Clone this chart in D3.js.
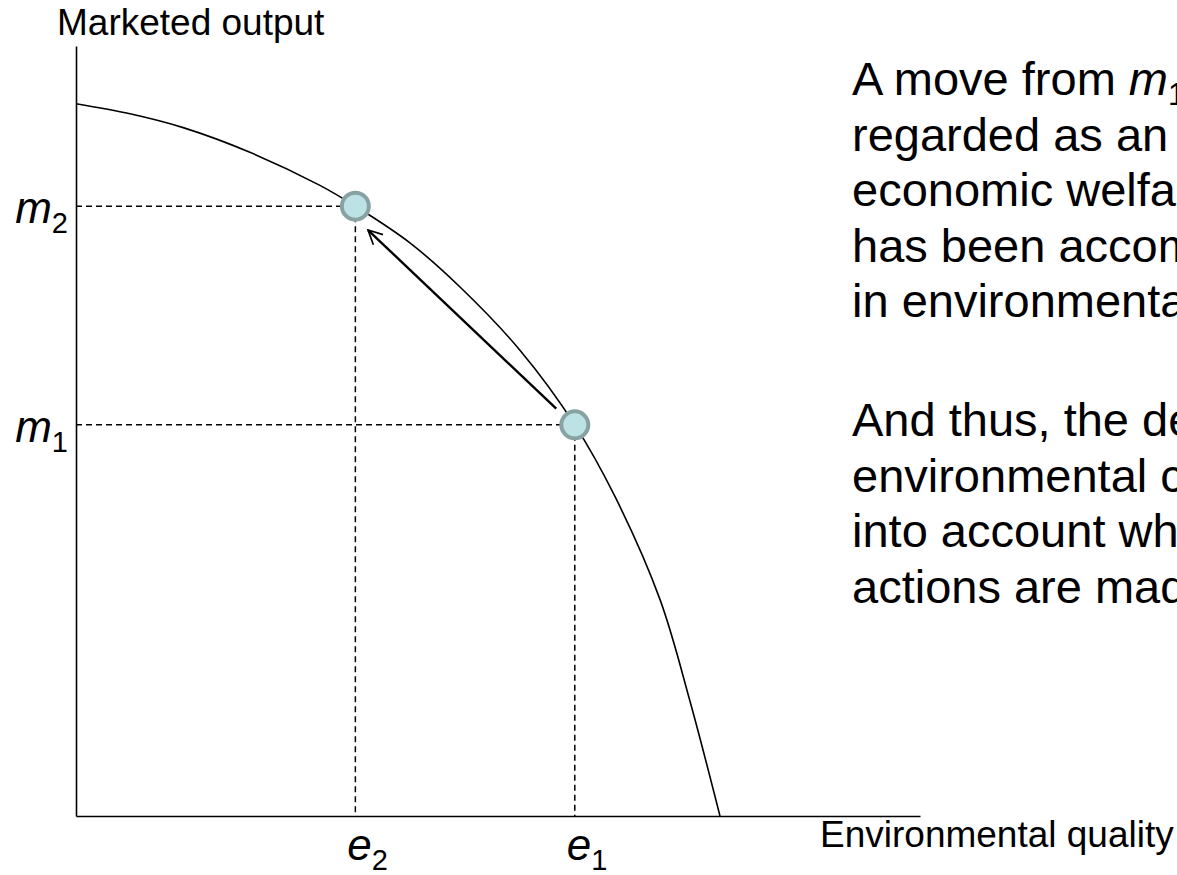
<!DOCTYPE html>
<meta charset="utf-8">
<style>
  body { margin: 0; background: #fff; }
  * { font-family: "Liberation Sans", Arial, sans-serif; }
  .curve { fill: none; stroke: #000; stroke-width: 1.6px; }
  .guide { stroke: #000; stroke-width: 1.5px; stroke-dasharray: 6,4; }
  .axis path { stroke: #000; stroke-width: 1.6px; }
</style>
<body>
<script src="https://d3js.org/d3.v7.min.js"></script>
<script>

// production possibility frontier (0-100 units)
var curveX = [0, 6.4, 12.7, 20.6, 28.9, 33.1, 39.6, 45.5, 52.6, 59.1, 63.9, 69.2, 72.7, 76.3];
var curveY = [92.5, 91.2, 89.4, 86.2, 81.9, 79.2, 74.4, 68.7, 60.5, 50.8, 41.4, 28.1, 15.1, 0];

// the two marked points
var pointNames = ["2", "1"];
var pointX = [33.1, 59.1];
var pointY = [79.2, 50.8];

// arrow from point 1 towards point 2
var arrowFrom = [56.9, 52.9];
var arrowTo = [34.6, 76.1];

var axisTitles = ["Marketed output", "Environmental quality"];

var para1 = ["A move from |m|1| e1 to m2 e2", "regarded as an increase",
             "economic welfare, even",
             "has been accompanied",
             "in environmental quality."];
var para2 = ["And thus, the decline", "environmental capital",
             "into account when",
             "actions are made."];

var W = 1177, H = 875;

var svg = d3.select("body").append("svg")
    .attr("width", W)
    .attr("height", H);

//scales
var x = d3.scaleLinear().domain([0, 100]).range([76, 920]);
var y = d3.scaleLinear().domain([0, 100]).range([816, 46]);

//axes, no ticks
svg.append("g")
  .attr("class", "axis")
  .attr("transform", "translate(" + x(0) + ",0)")
  .call(d3.axisLeft(y).ticks(0).tickSizeOuter(0));

svg.append("g")
  .attr("class", "axis")
  .attr("transform", "translate(0," + y(0) + ")")
  .call(d3.axisBottom(x).ticks(0).tickSizeOuter(0));

svg.append("text")
  .attr("x", 57).attr("y", 35)
  .style("font-size", "37px")
  .text(axisTitles[0]);

svg.append("text")
  .attr("x", 820).attr("y", 847)
  .style("font-size", "37px")
  .text(axisTitles[1]);

//dashed guides
pointX.forEach(function(px, i) {
  svg.append("line").attr("class", "guide")
    .attr("x1", x(0)).attr("x2", x(px))
    .attr("y1", y(pointY[i])).attr("y2", y(pointY[i]));
  svg.append("line").attr("class", "guide")
    .attr("x1", x(px)).attr("x2", x(px))
    .attr("y1", y(pointY[i])).attr("y2", y(0));
});

//frontier
var line = d3.line()
  .curve(d3.curveCatmullRom)
  .x(function(d) { return x(d[0]); })
  .y(function(d) { return y(d[1]); });

svg.append("path")
  .attr("class", "curve")
  .attr("d", line(d3.zip(curveX, curveY)));

//arrow
svg.append("defs").append("marker")
  .attr("id", "head")
  .attr("viewBox", "0 0 12 12")
  .attr("refX", 11).attr("refY", 6)
  .attr("markerWidth", 7).attr("markerHeight", 7)
  .attr("markerUnits", "strokeWidth")
  .attr("orient", "auto")
  .append("path")
  .attr("d", "M1,1 L11,6 L1,11")
  .attr("fill", "none")
  .attr("stroke", "#000")
  .attr("stroke-width", 1.2);

svg.append("line")
  .attr("x1", x(arrowFrom[0])).attr("y1", y(arrowFrom[1]))
  .attr("x2", x(arrowTo[0])).attr("y2", y(arrowTo[1]))
  .attr("stroke", "#000")
  .attr("stroke-width", 2.4)
  .attr("marker-end", "url(#head)");

//points
svg.selectAll(".pt")
  .data(pointX)
  .enter().append("circle")
  .attr("class", "pt")
  .attr("cx", function(d) { return x(d); })
  .attr("cy", function(d, i) { return y(pointY[i]); })
  .attr("r", 13.5)
  .attr("fill", "#bce2e5")
  .attr("stroke", "#88a2a4")
  .attr("stroke-width", 4);

//m and e labels
pointNames.forEach(function(n, i) {
  var mt = svg.append("text")
    .attr("x", 68).attr("y", y(pointY[i]) + 17)
    .attr("text-anchor", "end");
  mt.append("tspan").style("font-size", "44px").style("font-style", "italic").text("m");
  mt.append("tspan").style("font-size", "29px").attr("dy", 10).text(n);

  var et = svg.append("text")
    .attr("x", x(pointX[i]) - 8).attr("y", 860);
  et.append("tspan").style("font-size", "44px").style("font-style", "italic").text("e");
  et.append("tspan").style("font-size", "29px").attr("dy", 10).text(n);
});

//explanation text, runs off the right edge like the slide
var tx = 852, lead = 55.5;

function writeLine(str, yy) {
  var t = svg.append("text").attr("x", tx).attr("y", yy).style("font-size", "47px");
  if (str.indexOf("|") < 0) { t.text(str); return; }
  var parts = str.split("|");
  t.append("tspan").text(parts[0]);
  t.append("tspan").style("font-style", "italic").text(parts[1]);
  t.append("tspan").style("font-size", "31px").attr("dy", 10).text(parts[2]);
  t.append("tspan").attr("dy", -10).text(parts[3]);
}

para1.forEach(function(s, i) { writeLine(s, 95 + i * lead); });
para2.forEach(function(s, i) { writeLine(s, 436 + i * lead); });

</script>
</body>
